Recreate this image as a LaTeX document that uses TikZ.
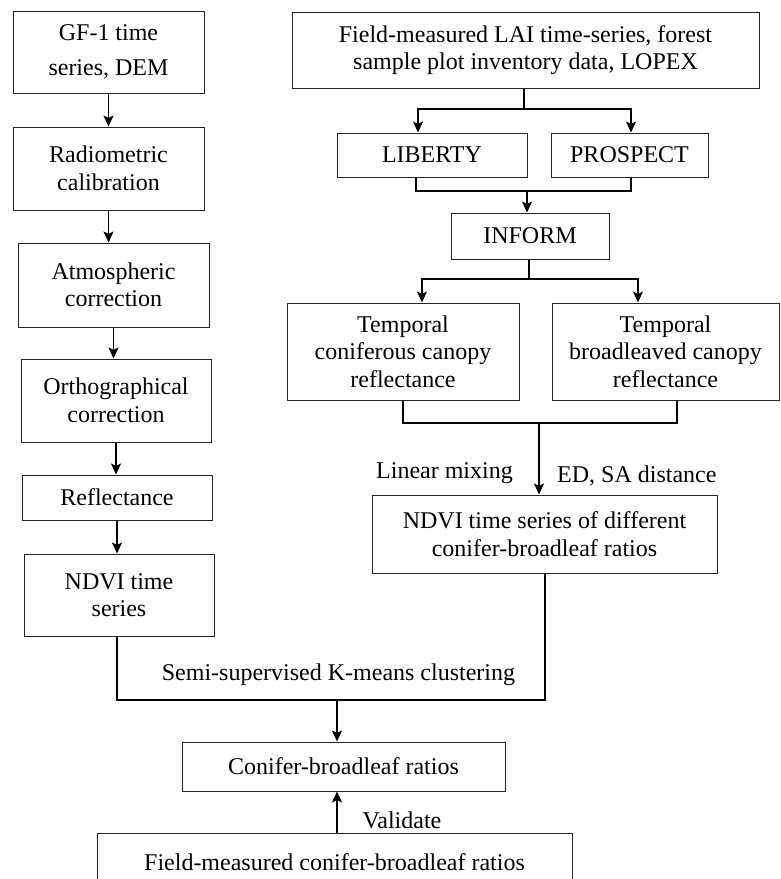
\documentclass[tikz,border=0pt]{standalone}
\usepackage{fontspec}
\setmainfont{Liberation Serif}
\usetikzlibrary{arrows.meta,calc}
\begin{document}
\begin{tikzpicture}[x=1pt,y=-1pt,
  txt/.style={font=\fontsize{24}{27.5}\selectfont},
  box/.style={txt, draw=black!85, line width=1pt, align=center, inner sep=0pt},
  conn/.style={line width=1.9pt},
  arr/.style={conn,-{Stealth[length=11pt,width=10pt,inset=2.5pt]}},
  lbl/.style={txt, inner sep=0pt}]
\clip (0,0) rectangle (780,879);
\fill[white] (0,0) rectangle (780,879);

% left column
\node[box, minimum width=191pt, minimum height=82pt] (gf) at (108.5,52) {GF-1 time\\[7pt]series, DEM};
\node[box, minimum width=191pt, minimum height=83pt] (rad) at (108.5,168.5) {Radiometric\\calibration};
\node[box, minimum width=191pt, minimum height=84pt] (atm) at (113.5,285) {Atmospheric\\correction};
\node[box, minimum width=190pt, minimum height=83pt] (orth) at (116,400.5) {Orthographical\\correction};
\node[box, minimum width=190pt, minimum height=45pt] (refl) at (117,497.5) {Reflectance};
\node[box, minimum width=190pt, minimum height=82pt] (ndvi) at (119,595) {NDVI time\\series};

% right column
\node[box, minimum width=467pt, minimum height=76pt] (field) at (525.5,50) {Field-measured LAI time-series, forest\\sample plot inventory data, LOPEX};
\node[box, minimum width=190pt, minimum height=44pt] (lib) at (432,155) {LIBERTY};
\node[box, minimum width=157pt, minimum height=44pt] (pros) at (629.5,155) {PROSPECT};
\node[box, minimum width=158pt, minimum height=46pt] (inform) at (530,236) {INFORM};
\node[box, minimum width=232pt, minimum height=97pt] (conif) at (403,351.5) {Temporal\\coniferous canopy\\reflectance};
\node[box, minimum width=227pt, minimum height=97pt] (broad) at (665.5,351.5) {Temporal\\broadleaved canopy\\reflectance};
\node[box, minimum width=345pt, minimum height=78pt] (ndvir) at (544.5,534) {NDVI time series of different\\conifer-broadleaf ratios};

% bottom
\node[box, minimum width=323pt, minimum height=49pt] (cbr) at (343.5,766.5) {Conifer-broadleaf ratios};
\node[box, minimum width=475pt, minimum height=57pt, anchor=north] (fmc) at (334.5,833) {Field-measured conifer-broadleaf ratios};

% labels
\node[lbl, anchor=east] (lm) at (513,473) {Linear mixing};
\node[lbl, anchor=west] (ed) at (557,476) {ED, SA distance};
\node[lbl] (km) at (338.5,675) {Semi-supervised K-means clustering};
\node[lbl] (val) at (402,820) {Validate};

% left column arrows
\draw[arr] (gf.south) -- (gf.south |- rad.north);
\draw[arr] (rad.south) -- (rad.south |- atm.north);
\draw[arr] (atm.south) -- (atm.south |- orth.north);
\draw[arr] (orth.south) -- (orth.south |- refl.north);
\draw[arr] (refl.south) -- (refl.south |- ndvi.north);

% field -> liberty / prospect
\coordinate (j1) at (524,109);
\coordinate (jl) at (418,109);
\coordinate (jr) at (631,109);
\draw[conn] (field.south -| j1) -- (j1);
\draw[arr] (j1) -| (jl |- lib.north);
\draw[arr] (j1) -| (jr |- pros.north);

% liberty / prospect -> inform
\coordinate (m1) at (416,191);
\coordinate (m2) at (631,191);
\coordinate (m3) at (527,191);
\draw[conn] (lib.south -| m1) -- (m1) -- (m2) -- (pros.south -| m2);
\draw[arr] (m3) -- (m3 |- inform.north);

% inform -> temporal boxes
\coordinate (k1) at (529,279);
\coordinate (kl) at (422,279);
\coordinate (kr) at (638,279);
\draw[conn] (inform.south -| k1) -- (k1);
\draw[arr] (k1) -| (kl |- conif.north);
\draw[arr] (k1) -| (kr |- broad.north);

% temporal -> ndvi ratios
\coordinate (t1) at (403,423);
\coordinate (t2) at (677,423);
\coordinate (t3) at (539,423);
\draw[conn] (conif.south -| t1) -- (t1) -- (t2) -- (broad.south -| t2);
\draw[arr] (t3) -- (t3 |- ndvir.north);

% clustering
\coordinate (b1) at (117,700);
\coordinate (b2) at (545,700);
\coordinate (b3) at (337,700);
\draw[conn] (ndvi.south -| b1) -- (b1) -- (b2) -- (ndvir.south -| b2);
\draw[arr] (b3) -- (b3 |- cbr.north);

% validate
\coordinate (v) at (337,833);
\draw[arr] (fmc.north -| v) -- (v |- cbr.south);
\end{tikzpicture}
\end{document}
